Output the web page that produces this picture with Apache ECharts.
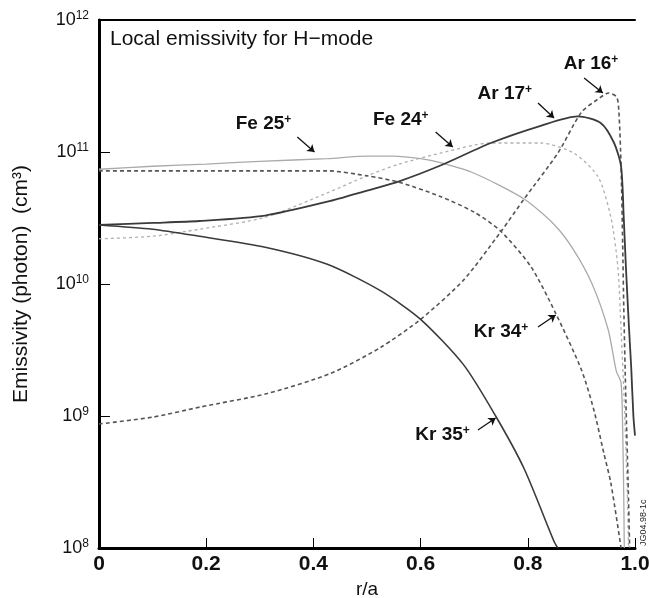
<!DOCTYPE html>
<html>
<head>
<meta charset="utf-8">
<script src="https://cdn.jsdelivr.net/npm/echarts@6/dist/echarts.min.js"></script>
<style>
	html, body { margin: 0; padding: 0; background: #fff; }
	#chart { width: 649px; height: 598px; }
</style>
</head>
<body>
<div id="chart"></div>
<script>
// ==========================
// data (r/a, emissivity)
// ==========================
var fe25X = [0, 0.1, 0.2, 0.3, 0.426, 0.5, 0.55, 0.6, 0.637, 0.7, 0.793, 0.85, 0.886, 0.92, 0.95, 0.965, 0.974, 0.977, 0.979, 0.98];
var fe25Y = [7.4e10, 7.8e10, 8.1e10, 8.5e10, 8.9e10, 9.3e10, 9.3e10, 8.9e10, 8.3e10, 6.9e10, 4.4e10, 2.8e10, 1.8e10, 1.0e10, 4.5e9, 2.2e9, 1.78e9, 7.9e8, 2.5e8, 1e8];

var fe24X = [0, 0.1, 0.187, 0.31, 0.426, 0.5, 0.56, 0.637, 0.73, 0.824, 0.886, 0.931, 0.955, 0.968, 0.974, 0.98, 0.985, 0.988];
var fe24Y = [2.2e10, 2.3e10, 2.6e10, 3.2e10, 4.9e10, 6.6e10, 8.1e10, 9.8e10, 1.17e11, 1.17e11, 9.8e10, 6.5e10, 3.2e10, 1.35e10, 4.5e9, 1.26e9, 3.2e8, 1e8];

var ar17X = [0, 0.1, 0.187, 0.31, 0.426, 0.5, 0.56, 0.637, 0.731, 0.824, 0.893, 0.936, 0.961, 0.974, 0.979, 0.983, 0.989, 0.993, 0.997, 1.0];
var ar17Y = [2.8e10, 2.9e10, 3.0e10, 3.3e10, 4.2e10, 5.1e10, 6.0e10, 7.9e10, 1.17e11, 1.58e11, 1.86e11, 1.66e11, 1.17e11, 7.8e10, 3.2e10, 1.35e10, 4.5e9, 2.3e9, 1e9, 7.1e8];

var ar16X = [0, 0.1, 0.189, 0.314, 0.432, 0.525, 0.6, 0.68, 0.75, 0.793, 0.856, 0.9, 0.93, 0.951, 0.966, 0.97, 0.974, 0.977, 0.979, 0.983, 0.987, 0.99];
var ar16Y = [8.7e8, 9.8e8, 1.17e9, 1.48e9, 2.1e9, 3.3e9, 5.4e9, 1.07e10, 2.5e10, 4.4e10, 9.8e10, 2.0e11, 2.5e11, 2.8e11, 2.6e11, 2.0e11, 7.9e10, 2.0e10, 6.8e9, 1.3e9, 3.3e8, 1e8];

var kr34X = [0, 0.1, 0.2, 0.3, 0.426, 0.5, 0.56, 0.637, 0.7, 0.75, 0.806, 0.852, 0.9, 0.923, 0.942, 0.955, 0.974];
var kr34Y = [7.2e10, 7.2e10, 7.2e10, 7.2e10, 7.2e10, 6.6e10, 5.9e10, 4.6e10, 3.5e10, 2.5e10, 1.35e10, 6.0e9, 2.24e9, 1.12e9, 5.2e8, 3.1e8, 1e8];

var kr35X = [0, 0.1, 0.187, 0.31, 0.426, 0.525, 0.6, 0.68, 0.74, 0.793, 0.849, 0.856];
var kr35Y = [2.8e10, 2.6e10, 2.3e10, 1.9e10, 1.41e10, 8.9e9, 5.4e9, 2.45e9, 1.0e9, 4.0e8, 1.12e8, 1e8];

var xTicks = [0, 0.2, 0.4, 0.6, 0.8, 1.0];

// labels: name, text position, arrow tail, arrow tip (data space)
var notes = [
	{ ion: 'Fe 25', text: [0.307, 1.63e11], from: [0.370, 1.30e11], to: [0.402, 1.0e11] },
	{ ion: 'Fe 24', text: [0.563, 1.75e11], from: [0.628, 1.42e11], to: [0.660, 1.09e11] },
	{ ion: 'Ar 17', text: [0.757, 2.75e11], from: [0.819, 2.35e11], to: [0.849, 1.81e11] },
	{ ion: 'Ar 16', text: [0.918, 4.64e11], from: [0.905, 3.64e11], to: [0.940, 2.8e11] },
	{ ion: 'Kr 34', text: [0.750, 4.33e9], from: [0.819, 4.72e9], to: [0.852, 5.82e9] },
	{ ion: 'Kr 35', text: [0.641, 7.18e8], from: [0.707, 7.83e8], to: [0.740, 9.66e8] }
];

function pairs(xs, ys) {
	var res = [];
	for (var i = 0; i < xs.length; i++) {
		res.push([xs[i], ys[i]]);
	}
	return res;
}

var font = 'Liberation Sans, Arial, Helvetica, sans-serif';

function curve(name, xs, ys, color, width, dash) {
	return {
		name: name,
		type: 'line',
		data: pairs(xs, ys),
		showSymbol: false,
		smooth: 0.25,
		clip: true,
		silent: true,
		lineStyle: { color: color, width: width, type: dash || 'solid' },
		z: 3
	};
}

var arrowLines = [], notePoints = [];
for (var k = 0; k < notes.length; k++) {
	arrowLines.push([{ coord: notes[k].from }, { coord: notes[k].to }]);
	notePoints.push({ coord: notes[k].text, value: notes[k].ion });
}

var chart = echarts.init(document.getElementById('chart'));
var option = {
	backgroundColor: '#fff',
	animation: false,
	textStyle: { fontFamily: font },
	grid: { left: 99, right: 14, top: 20, bottom: 50, containLabel: false, outerBoundsMode: 'none' },
	xAxis: [{
		type: 'value',
		min: 0,
		max: 1,
		interval: 0.2,
		name: 'r/a',
		nameLocation: 'middle',
		nameGap: 31,
		nameTextStyle: { fontSize: 19, color: '#111', fontFamily: font },
		axisLine: { lineStyle: { color: '#000', width: 3 } },
		axisTick: { inside: true, length: 10, lineStyle: { color: '#000', width: 1 } },
		splitLine: { show: false },
		axisLabel: {
			margin: 6,
			fontSize: 21,
			fontWeight: 'bold',
			color: '#111',
			formatter: function(v) {
				for (var i = 0; i < xTicks.length; i++) {
					if (Math.abs(v - xTicks[i]) < 1e-6) {
						return v === 0 ? '0' : v.toFixed(1);
					}
				}
				return '';
			}
		}
	}, {
		type: 'value',
		position: 'top',
		min: 0,
		max: 1,
		axisLine: { lineStyle: { color: '#000', width: 2 } },
		axisTick: { show: false },
		axisLabel: { show: false },
		splitLine: { show: false }
	}],
	yAxis: [{
		type: 'log',
		logBase: 10,
		min: 1e8,
		max: 1e12,
		name: 'Emissivity (photon)  (cm³)',
		nameLocation: 'middle',
		nameGap: 67,
		nameTextStyle: { fontSize: 21, color: '#111', fontFamily: font },
		axisLine: { show: true, lineStyle: { color: '#000', width: 3 } },
		axisTick: { show: true, inside: true, length: 11, lineStyle: { color: '#000', width: 1 } },
		splitLine: { show: false },
		minorTick: { show: false },
		axisLabel: {
			margin: 10,
			color: '#111',
			formatter: function(v) {
				var e = Math.round(Math.log(v) / Math.LN10);
				return '{b|10}{e|' + e + '}';
			},
			rich: {
				b: { fontSize: 18, fontFamily: font, color: '#111' },
				e: { fontSize: 12, fontFamily: font, color: '#111', padding: [0, 0, 9, 0] }
			}
		}
	}, {
		type: 'log',
		logBase: 10,
		position: 'right',
		min: 1e8,
		max: 1e12,
		axisLine: { show: true, lineStyle: { color: '#000', width: 2 } },
		axisTick: { show: false },
		axisLabel: { show: false },
		splitLine: { show: false }
	}],
	graphic: [{
		type: 'text',
		left: 110,
		top: 29,
		style: { text: 'Local emissivity for H\u2212mode', fontSize: 21, fontFamily: font, fill: '#111' }
	}, {
		type: 'text',
		x: 644,
		y: 546,
		rotation: Math.PI / 2,
		style: { text: 'JG04.98-1c', fontSize: 9, fontFamily: font, fill: '#222', textAlign: 'left', textVerticalAlign: 'middle' }
	}],
	series: [
		curve('Fe 25+', fe25X, fe25Y, '#aaa', 1.3),
		curve('Fe 24+', fe24X, fe24Y, '#b0b0b0', 1.3, [3, 3]),
		curve('Kr 34+', kr34X, kr34Y, '#555', 1.6, [4, 3]),
		curve('Ar 16+', ar16X, ar16Y, '#555', 1.6, [4, 3]),
		curve('Kr 35+', kr35X, kr35Y, '#3a3a3a', 1.6),
		curve('Ar 17+', ar17X, ar17Y, '#3a3a3a', 1.8),
		{
			name: 'notes',
			type: 'line',
			data: [],
			silent: true,
			markLine: {
				silent: true,
				symbol: ['none', 'arrow'],
				symbolSize: 7,
				label: { show: false },
				lineStyle: { color: '#111', width: 1.3, type: 'solid' },
				data: arrowLines
			},
			markPoint: {
				silent: true,
				symbol: 'circle',
				symbolSize: 1,
				itemStyle: { color: 'rgba(0,0,0,0)' },
				label: {
					show: true,
					position: 'inside',
					formatter: function(p) {
						return '{n|' + p.value + '}{s|+}';
					},
					rich: {
						n: { fontSize: 19, fontWeight: 'bold', fontFamily: font, color: '#111' },
						s: { fontSize: 12, fontWeight: 'bold', fontFamily: font, color: '#111', padding: [0, 0, 9, 0] }
					}
				},
				data: notePoints
			}
		}
	]
};
chart.setOption(option);
</script>
</body>
</html>
